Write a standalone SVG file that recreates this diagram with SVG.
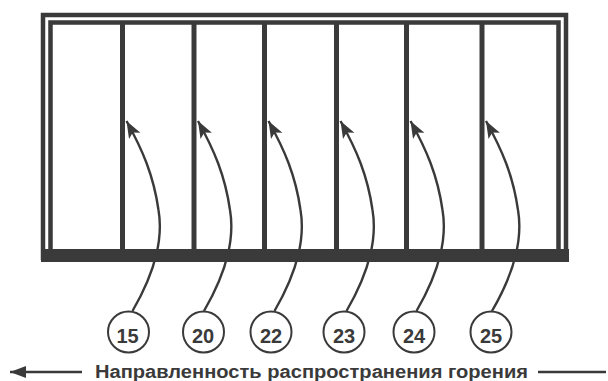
<svg xmlns="http://www.w3.org/2000/svg" width="608" height="381" viewBox="0 0 608 381">
  <style>
    .frame { fill: none; stroke: #3a3a3a; }
    .divider { stroke: #3a3a3a; stroke-width: 5; }
    .lead { fill: none; stroke: #3a3a3a; stroke-width: 2.4; marker-end: url(#head); }
    .tag circle { fill: #fff; stroke: #3a3a3a; stroke-width: 2; }
    .tag text { font-family: "Liberation Sans", Arial, sans-serif; font-size: 20px; font-weight: bold; fill: #3a3a3a; text-anchor: middle; }
    .caption { font-family: "Liberation Sans", Arial, sans-serif; font-size: 18px; font-weight: bold; fill: #3a3a3a; }
    .dir { stroke: #3a3a3a; stroke-width: 2.4; }
  </style>
  <defs>
    <marker id="head" markerUnits="userSpaceOnUse" markerWidth="20" markerHeight="14" refX="17" refY="6.5" orient="auto">
      <path d="M0,0 L17,6.5 L0,13 L4,6.5 z" fill="#3a3a3a"/>
    </marker>
    <marker id="dirhead" markerUnits="userSpaceOnUse" markerWidth="18" markerHeight="14" refX="16" refY="6" orient="auto">
      <path d="M0,0 L16,6 L0,12 z" fill="#3a3a3a"/>
    </marker>
  </defs>
  <rect width="608" height="381" fill="#fff"/>

  <!-- double-walled enclosure -->
  <g id="enclosure">
    <path class="frame" d="M43,260 V15 H566 V260" stroke-width="4.5"/>
    <path class="frame" d="M50.5,253 V22.5 H558.5 V253" stroke-width="4.5"/>
    <rect x="41" y="249" width="528" height="13" fill="#3a3a3a"/>
  </g>

  <!-- partition walls -->
  <g id="partitions">
    <line class="divider" x1="122.5" y1="22" x2="122.5" y2="250"/>
    <line class="divider" x1="194" y1="22" x2="194" y2="250"/>
    <line class="divider" x1="264.5" y1="22" x2="264.5" y2="250"/>
    <line class="divider" x1="336.5" y1="22" x2="336.5" y2="250"/>
    <line class="divider" x1="406.5" y1="22" x2="406.5" y2="250"/>
    <line class="divider" x1="482" y1="22" x2="482" y2="250"/>
  </g>

  <!-- leader lines from tags to the partitions -->
  <g id="connectors">
    <path class="lead" d="M132.5,311 C150.5,280 164.5,245 158.5,210 C153.5,175 142.5,150 126.5,121"/>
    <path class="lead" d="M204,311 C222,280 236,245 230,210 C225,175 214,150 198,121"/>
    <path class="lead" d="M274.5,311 C292.5,280 306.5,245 300.5,210 C295.5,175 284.5,150 268.5,121"/>
    <path class="lead" d="M346.5,311 C364.5,280 378.5,245 372.5,210 C367.5,175 356.5,150 340.5,121"/>
    <path class="lead" d="M416.5,311 C434.5,280 448.5,245 442.5,210 C437.5,175 426.5,150 410.5,121"/>
    <path class="lead" d="M492,311 C510,280 524,245 518,210 C513,175 502,150 486,121"/>
  </g>

  <g id="tag-15" class="tag"><circle cx="128.5" cy="332" r="20.5"/><text x="127.5" y="343">15</text></g>
  <g id="tag-20" class="tag"><circle cx="203.5" cy="332" r="20.5"/><text x="203" y="343">20</text></g>
  <g id="tag-22" class="tag"><circle cx="271" cy="332" r="20.5"/><text x="271" y="343">22</text></g>
  <g id="tag-23" class="tag"><circle cx="344" cy="332" r="20.5"/><text x="344" y="343">23</text></g>
  <g id="tag-24" class="tag"><circle cx="414" cy="332" r="20.5"/><text x="414" y="343">24</text></g>
  <g id="tag-25" class="tag"><circle cx="491" cy="332" r="20.5"/><text x="491" y="343">25</text></g>

  <!-- direction of fire spread -->
  <g id="direction">
    <line class="dir" x1="82" y1="372" x2="10" y2="372" marker-end="url(#dirhead)"/>
    <text class="caption" x="95" y="378" textLength="433" lengthAdjust="spacingAndGlyphs">Направленность распространения горения</text>
    <line class="dir" x1="538" y1="372" x2="606" y2="372"/>
  </g>
</svg>
